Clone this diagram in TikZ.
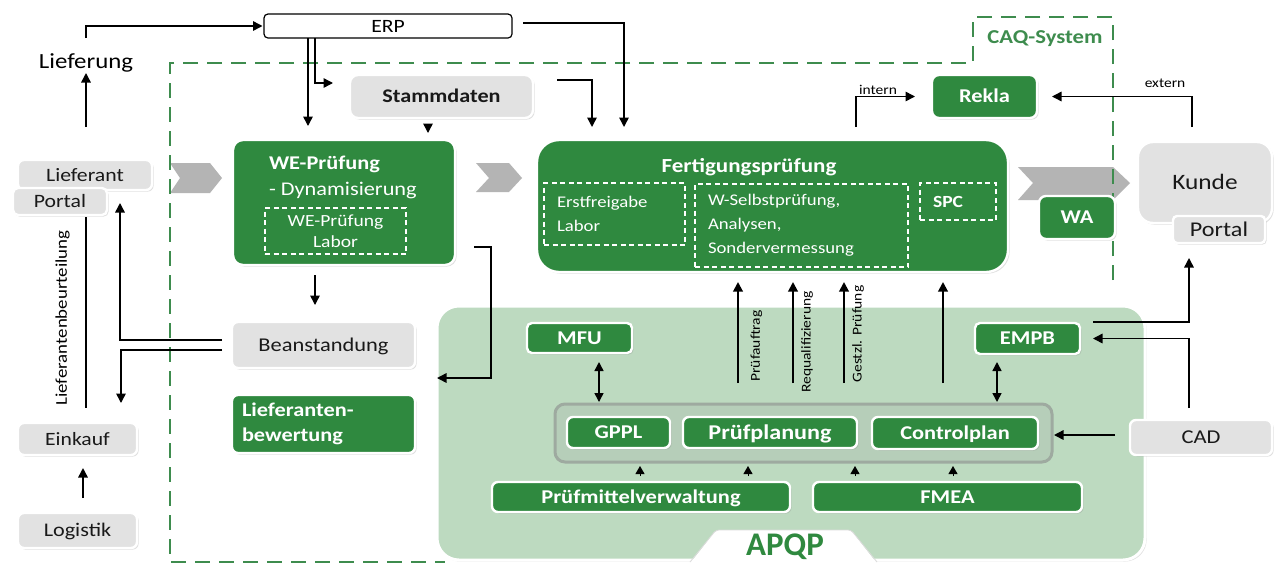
\documentclass[tikz,border=0pt]{standalone}
\usepackage{fontspec}
\setmainfont{Carlito}[FakeStretch=1.15]
\newfontfamily\apqpfont{Carlito}
\usetikzlibrary{arrows.meta,shadows}

\definecolor{cgreen}{RGB}{47,137,63}
\definecolor{capqp}{RGB}{189,218,192}
\definecolor{cgrp}{RGB}{182,206,185}
\definecolor{cgrpline}{RGB}{158,170,160}
\definecolor{cgray}{RGB}{226,226,226}
\definecolor{cchev}{RGB}{180,180,180}
\definecolor{cdash}{RGB}{62,140,78}

\newcommand\fsz[2]{\fontsize{#1}{#2}\selectfont}

\tikzset{
  plainnode/.style={inner sep=0pt, outer sep=0pt, align=center},
  softshadow/.style={drop shadow={shadow xshift=1.6pt, shadow yshift=-1.6pt, opacity=0.25}},
  greenbox/.style={plainnode, softshadow, fill=cgreen, draw=white, line width=2.4pt,
    rounded corners=6pt, text=white, font=\bfseries\fsz{19.5}{23},
    text height=12.5pt, text depth=0pt},
  graybox/.style={plainnode, softshadow, fill=cgray, draw=white, line width=2.4pt,
    rounded corners=6pt, text=black!90, font=\fsz{19}{23},
    text height=12.3pt, text depth=0pt},
  dashbox/.style={plainnode, draw=white, line width=1.1pt, dash pattern=on 5pt off 3.5pt,
    text=white, inner xsep=13pt, align=left, font=\fsz{16.3}{24}},
  arr/.style={draw=black, line width=1.5pt, -{Triangle[length=9.5pt,width=9.5pt]}},
  darr/.style={draw=black, line width=1.5pt,
    {Triangle[length=9pt,width=9pt]}-{Triangle[length=9pt,width=9pt]}},
  tiponly/.style={draw=black, line width=1pt, -{Triangle[length=8pt,width=9pt]}},
  lbl/.style={plainnode, font=\fsz{13.5}{16}},
  chev/.style={fill=cchev},
  caq/.style={draw=cdash, line width=2.5pt, dash pattern=on 15pt off 9pt},
}

\begin{document}
\begin{tikzpicture}[x=1pt, y=-1pt]
\useasboundingbox (0,0) rectangle (1274,566);
\fill[white] (0,0) rectangle (1274,566);

% process chevrons
\fill[chev] (170,163) -- (210,163) -- (222,178) -- (210,193) -- (170,193) -- (180,178) -- cycle;
\fill[chev] (476,163) -- (509,163) -- (522,178) -- (509,192) -- (476,192) -- (489,178) -- cycle;
\fill[chev] (1018,167) -- (1113,167) -- (1130,183) -- (1113,200) -- (1018,200) -- (1033,183) -- cycle;

% CAQ system boundary
\draw[caq] (1113,280) -- (1113,17) -- (973,17) -- (973,63) -- (170,63) -- (170,562) -- (445,562);
\node[plainnode, text=cdash, font=\bfseries\fsz{19.7}{22}] (caqtitle) at (1045,39) {CAQ-System};

% APQP area
\node[plainnode, softshadow, fill=capqp, draw=white, line width=3pt, rounded corners=22pt,
  minimum width=708pt, minimum height=254pt] (apqp) at (791,433) {};
\fill[white, rounded corners=3pt] (688,566) -- (716,530) -- (851,530) -- (879,566) -- cycle;
\draw[black!14, line width=0.8pt, rounded corners=3pt] (690,562) -- (716,530) -- (851,530) -- (877,562);
\node[plainnode, anchor=base, text=cgreen, font=\apqpfont\bfseries\fsz{33}{36}] (apqptitle) at (785,555) {APQP};

\node[plainnode, fill=cgrp, draw=cgrpline, line width=3pt, rounded corners=10pt,
  minimum width=497pt, minimum height=58pt] (grp) at (803.5,433) {};
\node[greenbox, minimum width=103pt, minimum height=31pt] (gppl) at (618.5,432.5) {GPPL};
\node[greenbox, minimum width=174pt, minimum height=31pt, font=\bfseries\fsz{21}{24}, text height=13.5pt] (pplan) at (770,432.5) {Prüfplanung};
\node[greenbox, minimum width=166pt, minimum height=32pt] (ctrl) at (955,433) {Controlplan};
\node[greenbox, minimum width=298pt, minimum height=30pt] (pmv) at (641,497) {Prüfmittelverwaltung};
\node[greenbox, minimum width=269pt, minimum height=30pt] (fmea) at (947.5,497) {FMEA};
\node[greenbox, minimum width=105pt, minimum height=30pt, rounded corners=5pt] (mfu) at (579.5,338) {MFU};
\node[greenbox, minimum width=105pt, minimum height=31pt, rounded corners=5pt] (empb) at (1027.5,338.5) {EMPB};

% top row
\node[plainnode, fill=white, draw=black, line width=1.2pt, rounded corners=4pt,
  minimum width=248pt, minimum height=24pt, font=\fsz{18.8}{22}, text height=12pt, text depth=0pt] (erp) at (388,26) {ERP};
\node[plainnode, font=\fsz{21.6}{24}, text height=15pt, text depth=5pt] (lieferung) at (86,63) {Lieferung};
\node[graybox, minimum width=183pt, minimum height=43pt, rounded corners=8pt, font=\bfseries\fsz{19.3}{23}] (stamm) at (441.5,96.5) {Stammdaten};
\node[greenbox, minimum width=105pt, minimum height=43pt, rounded corners=7pt] (rekla) at (984.5,96.5) {Rekla};

% incoming inspection
\node[greenbox, minimum width=222pt, minimum height=125pt, rounded corners=10pt] (we) at (344,202.5) {};
\node[plainnode, anchor=base west, text=white, font=\bfseries\fsz{19.4}{22}] (wetitle) at (269,169) {WE-Prüfung};
\node[plainnode, anchor=base west, text=white, font=\fsz{19.4}{22}] (wedyn) at (269,195) {- Dynamisierung};
\node[dashbox, align=center, minimum width=141pt, minimum height=46pt, text width=115pt, font=\fsz{17}{21}] (welabor) at (335.5,231) {WE-Prüfung\\Labor};

% production inspection
\node[greenbox, minimum width=471pt, minimum height=132pt, rounded corners=22pt] (fert) at (772.5,206) {};
\node[plainnode, text=white, font=\bfseries\fsz{20}{24}, text height=12.9pt, text depth=0pt] (ferttitle) at (749,166) {Fertigungsprüfung};
\node[dashbox, minimum width=141pt, minimum height=62pt, text width=115pt] (erstfrei) at (614.5,214) {Erstfreigabe\\Labor};
\node[dashbox, minimum width=213pt, minimum height=83pt, text width=187pt] (wselbst) at (801.5,225.5) {W-Selbstprüfung,\\Analysen,\\Sondervermessung};
\node[dashbox, minimum width=76pt, minimum height=37pt, text width=50pt, font=\bfseries\fsz{17}{20}, text height=11pt, text depth=0pt] (spc) at (958,201.5) {SPC};

\node[greenbox, minimum width=76pt, minimum height=43pt, rounded corners=7pt] (wa) at (1077,217.5) {WA};

% customer side
\node[graybox, minimum width=134pt, minimum height=81pt, rounded corners=15pt, font=\fsz{22}{25}, text height=14.2pt] (kunde) at (1205,182.5) {Kunde};
\node[graybox, minimum width=92pt, minimum height=27pt, rounded corners=4pt, font=\fsz{21}{24}, text height=13.5pt] (portalR) at (1219,229.5) {Portal};
\node[graybox, minimum width=142pt, minimum height=35pt, font=\fsz{19.6}{23}, text height=12.6pt] (cad) at (1201,437.5) {CAD};

% supplier side
\node[graybox, minimum width=134pt, minimum height=30pt, font=\fsz{18.9}{22}] (lieferant) at (85,175) {Lieferant};
\node[graybox, minimum width=94pt, minimum height=27pt, rounded corners=5pt, font=\fsz{18.9}{22}] (portalL) at (60,201.5) {Portal};
\node[graybox, minimum width=183pt, minimum height=46pt, font=\fsz{19.5}{23}] (bean) at (323.5,345) {Beanstandung};
\node[greenbox, minimum width=183pt, minimum height=58pt, text width=163pt, inner xsep=10pt, align=left,
  text height=, text depth=, font=\bfseries\fsz{19.4}{25}] (lbew) at (323.5,424) {Lieferanten-\\bewertung};
\node[graybox, minimum width=119pt, minimum height=32pt, font=\fsz{18.8}{22}] (einkauf) at (77.5,439) {Einkauf};
\node[graybox, minimum width=119pt, minimum height=35pt, font=\fsz{19.3}{22}] (logistik) at (77.5,530.5) {Logistik};

% connectors: ERP and master data
\draw[arr, shorten <=33pt] (lieferung |- lieferant.north) -- (lieferung.south);
\draw[arr, shorten <=15pt, shorten >=1.5pt] (lieferung.north) |- (erp.west);
\draw[arr, shorten >=14pt] ([xshift=-80pt]erp.south) -- ([xshift=-36pt]we.north);
\draw[arr, shorten >=17pt] ([xshift=-73pt]erp.south) |- ([yshift=13.5pt]stamm.west);
\draw[arr, shorten <=6pt, shorten >=7pt] ([xshift=-13.5pt]stamm.south) -- ([xshift=84pt]we.north);
\draw[arr, shorten <=11pt, shorten >=13pt] ([yshift=3pt]erp.east) -| ([xshift=-148.5pt]fert.north);
\draw[arr, shorten <=24pt, shorten >=13pt] ([yshift=16.5pt]stamm.east) -| ([xshift=-180.5pt]fert.north);

% connectors: incoming inspection and suppliers
\draw[arr, shorten <=10pt, shorten >=17pt] ([xshift=-29pt]we.south) -- ([xshift=-8.5pt]bean.north);
\draw[arr, shorten <=19pt] ([yshift=-44.5pt]we.east) -| ([xshift=54pt,yshift=55pt]apqp.west) -- ([yshift=55pt]apqp.west);
\draw[arr, shorten <=10pt, shorten >=13pt] ([yshift=5pt]bean.west) -| ([xshift=35pt]lieferant.south);
\draw[arr, shorten <=10pt, shorten >=20pt] ([yshift=-5pt]bean.west) -| ([xshift=43.5pt]einkauf.north);
\draw[line width=1.5pt, shorten <=2pt, shorten >=15pt] ([xshift=26pt]portalL.south) -- ([xshift=8.5pt]einkauf.north);
\node[lbl, rotate=90, font=\fsz{16.4}{18}] (beurteilung) at (62.5,318) {Lieferantenbeurteilung};
\draw[arr, shorten <=15pt, shorten >=13pt] ([xshift=5.5pt]logistik.north) -- ([xshift=5.5pt]einkauf.south);

% connectors: complaints
\draw[arr, shorten <=13pt, shorten >=17pt] ([xshift=83.5pt]fert.north) |- (rekla.west)
  node[lbl, pos=0.645, above=2pt] {intern};
\draw[arr, shorten <=15pt, shorten >=15pt] ([xshift=-13pt]kunde.north) |- (rekla.east)
  node[lbl, pos=0.587, above=9pt] {extern};

% connectors: customer, CAD and EMPB
\draw[arr, shorten <=13pt, shorten >=15pt] ([yshift=16.5pt]empb.east) -| ([xshift=-30pt]portalR.south);
\draw[arr, shorten <=12pt, shorten >=13pt] ([xshift=-12pt]cad.north) |- (empb.east);
\draw[arr, shorten <=15pt, shorten >=2pt] ([yshift=2.5pt]cad.west) -- ([yshift=2.5pt]cad.west -| grp.east);
\draw[darr, shorten <=8pt, shorten >=15pt] ([xshift=-30.5pt]empb.south) -- ([xshift=-30.5pt]empb.south |- ctrl.north);
\draw[darr, shorten <=9pt, shorten >=15pt] ([xshift=19.5pt]mfu.south) -- ([xshift=19.5pt]mfu.south |- gppl.north);

% connectors: planning into production inspection
\draw[arr, line width=2pt, shorten <=21pt, shorten >=10pt] ([xshift=-65.5pt]grp.north) -- ([xshift=-65.5pt]grp.north |- fert.south);
\draw[arr, line width=2pt, shorten <=21pt, shorten >=10pt] ([xshift=-10.5pt]grp.north) -- ([xshift=-10.5pt]grp.north |- fert.south);
\draw[arr, line width=2pt, shorten <=21pt, shorten >=10pt] ([xshift=40.5pt]grp.north) -- ([xshift=40.5pt]grp.north |- fert.south);
\draw[arr, line width=2pt, shorten <=21pt, shorten >=10pt] ([xshift=139.5pt]grp.north) -- ([xshift=139.5pt]grp.north |- fert.south);
\node[lbl, rotate=90] (pauftrag) at (756.5,346) {Prüfauftrag};
\node[lbl, rotate=90] (requal) at (807,342) {Requalifizierung};
\node[lbl, rotate=90] (gesetzl) at (858,334) {Gestzl. Prüfung};

% connectors: inputs into the planning group
\draw[tiponly, shorten <=6pt, shorten >=4pt] ([xshift=-1pt]pmv.north) -- ([xshift=-1pt]pmv.north |- grp.south);
\draw[tiponly, shorten <=6pt, shorten >=4pt] ([xshift=107pt]pmv.north) -- ([xshift=107pt]pmv.north |- grp.south);
\draw[tiponly, shorten <=6pt, shorten >=4pt] ([xshift=-92.5pt]fmea.north) -- ([xshift=-92.5pt]fmea.north |- grp.south);
\draw[tiponly, shorten <=6pt, shorten >=4pt] ([xshift=5.5pt]fmea.north) -- ([xshift=5.5pt]fmea.north |- grp.south);
\end{tikzpicture}
\end{document}
